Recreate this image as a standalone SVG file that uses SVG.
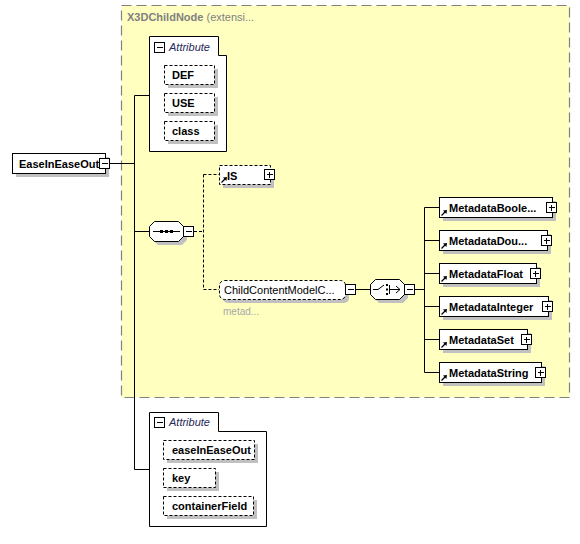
<svg xmlns="http://www.w3.org/2000/svg" xmlns:xlink="http://www.w3.org/1999/xlink" width="580" height="544" viewBox="0 0 580 544">
<style>
text{font-family:"Liberation Sans",Arial,sans-serif;font-size:11px;fill:#000}
.b{font-weight:bold}
.it{font-style:italic;fill:#28285a}
.ttl{fill:#808080}
.note{fill:#a8a8a8;font-size:10px}
.box{fill:#fff;stroke:#000;stroke-width:1}
.dbox{fill:#fff;stroke:#000;stroke-width:1;stroke-dasharray:3,2}
.sh{fill:#c0c0c0;stroke:none}
.ln{fill:none;stroke:#000;stroke-width:1}
.dl{fill:none;stroke:#000;stroke-width:1;stroke-dasharray:3,2}
</style>
<defs>
<g id="plus"><rect x="0.5" y="0.5" width="10" height="10" fill="#fff" stroke="#000"/><path d="M3,5.5H9M5.5,3V9" stroke="#000" fill="none"/></g>
<g id="minus"><rect x="0.5" y="0.5" width="10" height="10" fill="#fff" stroke="#000"/><path d="M3,5.5H9" stroke="#000" fill="none"/></g>
<g id="refArrow"><path d="M0.5,6.5L4,3" stroke="#000" stroke-width="1.3" fill="none"/><polygon points="6,1 2,1.6 5.4,5" fill="#000"/></g>
</defs>

<g id="x3dchildnode">
<rect x="121.5" y="5.5" width="448" height="392" fill="#ffffc0" stroke="#808080" stroke-width="1.2" stroke-dasharray="10,5"/>
<text x="127" y="21" class="ttl"><tspan class="b">X3DChildNode</tspan> (extensi...</text>
</g>

<g id="connectors">
<path class="ln" d="M110,163.5H134.5M134.5,95.5V469.5M134.5,95.5H149M134.5,231.5H149M134.5,469.5H149"/>
<path class="dl" d="M194,231.5H203.5M203.5,174.5V289.5M203.5,174.5H219M203.5,289.5H219"/>
<path class="ln" d="M356,289.5H370M415,289.5H424.5M424.5,207.5V372.5M424.5,207.5H439M424.5,240.5H439M424.5,273.5H439M424.5,306.5H439M424.5,339.5H439M424.5,372.5H439"/>
</g>

<g id="EaseInEaseOut">
<rect x="16" y="157" width="93" height="20" class="sh"/>
<rect x="12.5" y="153.5" width="93" height="20" class="box"/>
<text x="19" y="168" class="b">EaseInEaseOut</text>
<use xlink:href="#minus" x="99" y="158"/>
</g>

<g id="attributes1">
<path class="box" d="M149.5,36.5H218.5V55.5H226.5V151.5H149.5Z"/>
<use xlink:href="#minus" x="154" y="42"/>
<text x="169" y="51" class="it">Attribute</text>
<g id="attr-DEF"><rect x="168" y="69" width="50" height="19" class="sh"/><rect x="164.5" y="65.5" width="50" height="19" class="dbox"/><text x="172" y="79" class="b">DEF</text></g>
<g id="attr-USE"><rect x="168" y="97" width="50" height="19" class="sh"/><rect x="164.5" y="93.5" width="50" height="19" class="dbox"/><text x="172" y="107" class="b">USE</text></g>
<g id="attr-class"><rect x="168" y="125" width="50" height="19" class="sh"/><rect x="164.5" y="121.5" width="50" height="19" class="dbox"/><text x="172" y="135" class="b">class</text></g>
</g>

<g id="sequence">
<path class="sh" d="M158,225H182L187,230V240L182,245H158L153,240V230Z"/>
<path class="box" d="M154.5,221.5H178.5L183.5,226.5V236.5L178.5,241.5H154.5L149.5,236.5V226.5Z"/>
<path class="ln" d="M153,231.5H180"/>
<rect x="160" y="230" width="3" height="3" fill="#000"/><rect x="165" y="230" width="3" height="3" fill="#000"/><rect x="170" y="230" width="3" height="3" fill="#000"/>
<use xlink:href="#minus" x="183" y="226"/>
</g>

<g id="IS">
<rect x="223" y="169" width="51" height="19" class="sh"/>
<rect x="219.5" y="165.5" width="51" height="19" class="dbox"/>
<use xlink:href="#refArrow" x="221" y="176"/>
<text x="227" y="180" class="b">IS</text>
<use xlink:href="#plus" x="264" y="169"/>
</g>

<g id="ChildContentModel">
<rect x="223" y="284" width="126" height="19" rx="5" class="sh"/>
<rect x="219.5" y="280.5" width="126" height="19" rx="5" class="dbox"/>
<text x="224" y="294">ChildContentModelC...</text>
<use xlink:href="#minus" x="345" y="284"/>
<text x="223" y="315" class="note">metad...</text>
</g>

<g id="choice">
<path class="sh" d="M379,283H403L408,288V298L403,303H379L374,298V288Z"/>
<path class="box" d="M375.5,279.5H399.5L404.5,284.5V294.5L399.5,299.5H375.5L370.5,294.5V284.5Z"/>
<path class="ln" d="M373,289.5H378L384,285M389.5,285V294M389.5,289.5H400M396,286L400,289.5L396,293"/>
<rect x="386" y="284" width="2" height="2" fill="#000"/><rect x="386" y="288.5" width="2" height="2" fill="#000"/><rect x="386" y="293" width="2" height="2" fill="#000"/>
<use xlink:href="#minus" x="404" y="284"/>
</g>

<g id="MetadataBoolean">
<rect x="443" y="201" width="113" height="20" class="sh"/>
<rect x="439.5" y="197.5" width="113" height="20" class="box"/>
<use xlink:href="#refArrow" x="441" y="209"/>
<text x="449" y="212" class="b">MetadataBoole...</text>
<use xlink:href="#plus" x="546" y="202"/>
</g>
<g id="MetadataDouble">
<rect x="443" y="234" width="108" height="20" class="sh"/>
<rect x="439.5" y="230.5" width="108" height="20" class="box"/>
<use xlink:href="#refArrow" x="441" y="242"/>
<text x="449" y="245" class="b">MetadataDou...</text>
<use xlink:href="#plus" x="541" y="235"/>
</g>
<g id="MetadataFloat">
<rect x="443" y="267" width="97" height="20" class="sh"/>
<rect x="439.5" y="263.5" width="97" height="20" class="box"/>
<use xlink:href="#refArrow" x="441" y="275"/>
<text x="449" y="278" class="b">MetadataFloat</text>
<use xlink:href="#plus" x="530" y="268"/>
</g>
<g id="MetadataInteger">
<rect x="443" y="300" width="109" height="20" class="sh"/>
<rect x="439.5" y="296.5" width="109" height="20" class="box"/>
<use xlink:href="#refArrow" x="441" y="308"/>
<text x="449" y="311" class="b">MetadataInteger</text>
<use xlink:href="#plus" x="542" y="301"/>
</g>
<g id="MetadataSet">
<rect x="443" y="333" width="88" height="20" class="sh"/>
<rect x="439.5" y="329.5" width="88" height="20" class="box"/>
<use xlink:href="#refArrow" x="441" y="341"/>
<text x="449" y="344" class="b">MetadataSet</text>
<use xlink:href="#plus" x="521" y="334"/>
</g>
<g id="MetadataString">
<rect x="443" y="366" width="102" height="20" class="sh"/>
<rect x="439.5" y="362.5" width="102" height="20" class="box"/>
<use xlink:href="#refArrow" x="441" y="374"/>
<text x="449" y="377" class="b">MetadataString</text>
<use xlink:href="#plus" x="535" y="367"/>
</g>

<g id="attributes2">
<path class="box" d="M149.5,412.5H218.5V431.5H266.5V526.5H149.5Z"/>
<use xlink:href="#minus" x="154" y="417"/>
<text x="169" y="426" class="it">Attribute</text>
<g id="attr-easeInEaseOut"><rect x="167" y="444" width="91" height="19" class="sh"/><rect x="163.5" y="440.5" width="91" height="19" class="dbox"/><text x="172" y="454" class="b">easeInEaseOut</text></g>
<g id="attr-key"><rect x="167" y="472" width="52" height="19" class="sh"/><rect x="163.5" y="468.5" width="52" height="19" class="dbox"/><text x="172" y="482" class="b">key</text></g>
<g id="attr-containerField"><rect x="167" y="500" width="90" height="19" class="sh"/><rect x="163.5" y="496.5" width="90" height="19" class="dbox"/><text x="172" y="510" class="b">containerField</text></g>
</g>
</svg>
